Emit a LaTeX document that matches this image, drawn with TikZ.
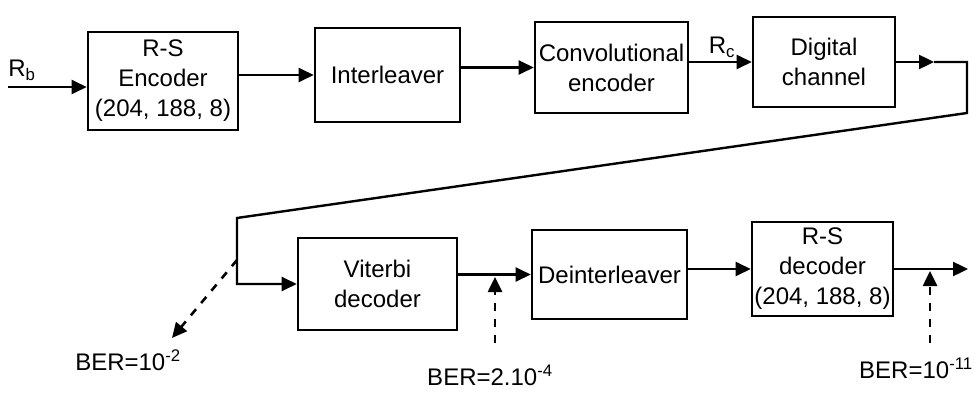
\documentclass[tikz,border=0pt]{standalone}
\usepackage{fontspec}
\setmainfont{Liberation Sans}
\usetikzlibrary{arrows.meta}

\tikzset{
	blk/.style={draw, line width=2.6pt, align=center, inner sep=0.75pt, font=\fontsize{24}{30}\selectfont},
	wire/.style={line width=2.4pt},
	arr/.style={wire, -{Triangle[length=15pt,width=14pt]}},
	berarr/.style={line width=2.6pt, dash pattern=on 8pt off 8pt, -{Triangle[length=15pt,width=14pt]}},
	lbl/.style={inner sep=0.75pt, font=\fontsize{24}{28}\selectfont},
}

\begin{document}
\begin{tikzpicture}[x=1pt,y=1pt,yscale=-1,xscale=1]
	\useasboundingbox (0,0) rectangle (974,393);
	
	%Shape: Rectangle [id:enc]
	\node [blk, minimum width=150pt, minimum height=98pt] (enc) at (163,81) {R-S\\Encoder\\(204, 188, 8)};
	%Shape: Rectangle [id:ilv]
	\node [blk, minimum width=145pt, minimum height=94pt] (ilv) at (387.5,75) {Interleaver};
	%Shape: Rectangle [id:conv]
	\node [blk, minimum width=153pt, minimum height=91pt] (conv) at (611.5,67.5) {Convolutional\\encoder};
	%Shape: Rectangle [id:chan]
	\node [blk, minimum width=142pt, minimum height=90pt] (chan) at (824,62) {Digital\\channel};
	%Shape: Rectangle [id:vit]
	\node [blk, minimum width=159pt, minimum height=92pt] (vit) at (377.5,284) {Viterbi\\decoder};
	%Shape: Rectangle [id:deint]
	\node [blk, minimum width=155pt, minimum height=89pt] (deint) at (609.5,274.5) {Deinterleaver};
	%Shape: Rectangle [id:dec]
	\node [blk, minimum width=141pt, minimum height=94pt] (dec) at (822.5,269) {R-S\\decoder\\(204, 188, 8)};
	
	% bends of the return line
	\coordinate (rbin) at (8,87);
	\coordinate (mid1) at (934,62);
	\coordinate (t1) at (967,62);
	\coordinate (t2) at (967,113);
	\coordinate (t3) at (237,218);
	\coordinate (t4) at (237,284);
	\coordinate (out) at (968,269);
	
	%Straight Lines [id:top row]
	\draw [arr] (rbin) -- (rbin -| enc.west);
	\draw [arr] (enc.east |- ilv.west) -- (ilv.west);
	\draw [arr] (ilv.east |- conv.west) -- (conv.west);
	\draw [arr] (conv.east |- chan.west) -- (chan.west);
	\draw [arr] (chan.east) -- (mid1);
	%Straight Lines [id:return]
	\draw [arr] (mid1) -- (t1) -- (t2) -- (t3) -- (t4) -- (vit.west);
	%Straight Lines [id:bottom row]
	\draw [arr] (vit.east |- deint.west) -- (deint.west);
	\draw [arr] (deint.east |- dec.west) -- (dec.west);
	\draw [arr] (dec.east) -- (out);
	
	%Dashed Lines [id:ber]
	\coordinate (b1s) at (237,260);
	\coordinate (b1e) at (172,338);
	\coordinate (b2s) at (495,343);
	\coordinate (b2e) at (495,277);
	\coordinate (b3s) at (930,343);
	\coordinate (b3e) at (930,271);
	\draw [berarr] (b1s) -- (b1e);
	\draw [berarr] (b2s) -- (b2e);
	\draw [berarr] (b3s) -- (b3e);
	
	% Text Node
	\node [lbl] (rb) at (22,70) {R\textsubscript{b}};
	% Text Node
	\node [lbl] (rc) at (722,47) {R\textsubscript{c}};
	% Text Node
	\node [lbl] (ber1) at (128,360) {BER=10\textsuperscript{-2}};
	% Text Node
	\node [lbl] (ber2) at (490,375) {BER=2.10\textsuperscript{-4}};
	% Text Node
	\node [lbl] (ber3) at (916,368) {BER=10\textsuperscript{-11}};
\end{tikzpicture}
\end{document}
